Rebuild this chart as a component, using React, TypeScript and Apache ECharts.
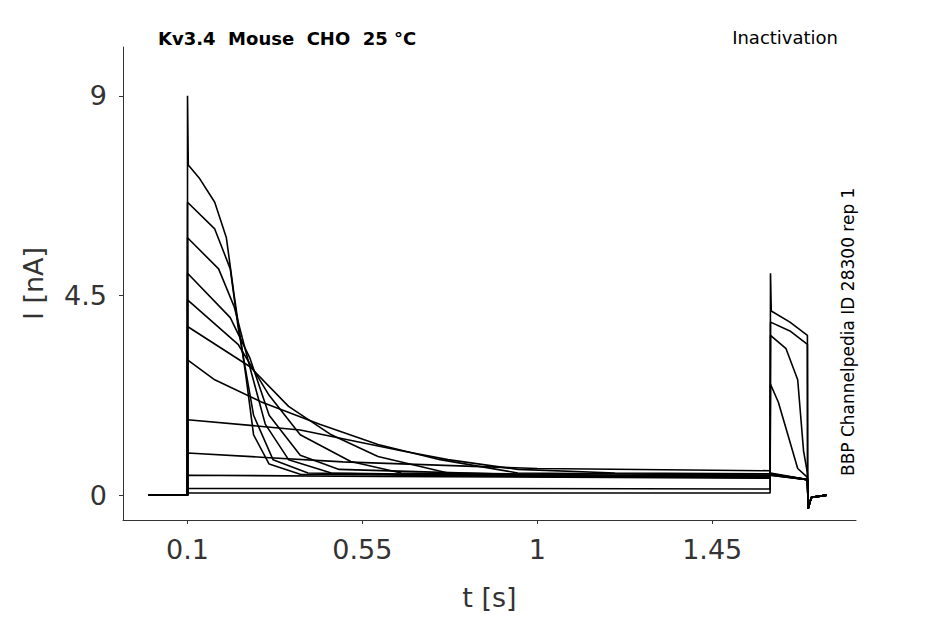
import React, { useEffect, useRef } from "react";
import * as echarts from "echarts";

const xTicks = [0.1, 0.55, 1, 1.45];
const yTicks = [0, 4.5, 9];

// first-pulse decay points [t, I] for each trace
const pulse1: number[][][] = [
  [[0.1, 9.0], [0.102, 7.44], [0.13, 7.15], [0.17, 6.6], [0.2, 5.8], [0.22, 4.5], [0.25, 2.7], [0.27, 1.36], [0.31, 0.7], [0.39, 0.47], [1.0, 0.42], [1.599, 0.4]],
  [[0.1, 6.6], [0.17, 6.0], [0.21, 5.1], [0.23, 3.8], [0.27, 1.8], [0.32, 0.8], [0.41, 0.5], [1.0, 0.42], [1.599, 0.4]],
  [[0.1, 5.8], [0.18, 5.1], [0.22, 4.25], [0.26, 2.9], [0.3, 1.6], [0.36, 0.8], [0.47, 0.5], [1.0, 0.43], [1.599, 0.42]],
  [[0.1, 5.0], [0.21, 4.0], [0.26, 3.1], [0.31, 1.8], [0.39, 0.9], [0.49, 0.58], [1.0, 0.45], [1.599, 0.43]],
  [[0.1, 4.4], [0.23, 3.4], [0.31, 2.25], [0.39, 1.36], [0.52, 0.76], [0.65, 0.5], [1.0, 0.45], [1.599, 0.44]],
  [[0.1, 3.8], [0.26, 2.9], [0.36, 2.0], [0.47, 1.36], [0.59, 0.87], [0.77, 0.5], [1.2, 0.45], [1.599, 0.45]],
  [[0.1, 3.05], [0.17, 2.6], [0.29, 2.1], [0.44, 1.6], [0.59, 1.14], [0.75, 0.8], [0.95, 0.5], [1.599, 0.45]],
  [[0.1, 1.7], [0.39, 1.47], [0.65, 1.0], [0.77, 0.8], [0.95, 0.58], [1.2, 0.5], [1.599, 0.48]],
  [[0.1, 0.95], [0.3, 0.85], [0.5, 0.75], [1.0, 0.6], [1.599, 0.55]],
  [[0.1, 0.45], [0.6, 0.42], [1.2, 0.4], [1.599, 0.38]],
  [[0.1, 0.15], [0.8, 0.15], [1.599, 0.14]],
  [[0.1, 0.05], [0.8, 0.05], [1.599, 0.05]],
];

// second-pulse points [t, I] for each trace
const pulse2: number[][][] = [
  [[1.6, 0.5], [1.695, 0.35]],
  [[1.6, 0.48], [1.695, 0.35]],
  [[1.6, 0.48], [1.695, 0.35]],
  [[1.6, 0.47], [1.695, 0.35]],
  [[1.6, 0.47], [1.695, 0.35]],
  [[1.6, 0.46], [1.695, 0.35]],
  [[1.6, 0.46], [1.695, 0.35]],
  [[1.6, 0.46], [1.695, 0.35]],
  [[1.6, 5.0], [1.602, 4.15], [1.65, 3.9], [1.695, 3.6]],
  [[1.6, 3.9], [1.65, 3.7], [1.695, 3.4]],
  [[1.6, 3.6], [1.64, 3.3], [1.67, 2.6], [1.685, 1.0], [1.695, 0.5]],
  [[1.6, 2.5], [1.62, 2.1], [1.64, 1.5], [1.67, 0.6], [1.695, 0.4]],
];

const tail: number[][] = [[1.697, -0.3], [1.705, -0.05], [1.745, 0]];

export default function App() {
  const ref = useRef<HTMLDivElement>(null);
  useEffect(() => {
    const chart = echarts.init(ref.current!, undefined, { renderer: "svg" });
    const series = pulse1.map((p, i) => ({
      type: "line",
      showSymbol: false,
      symbol: "none",
      lineStyle: { color: "#000", width: 1.6 },
      data: [[0, 0], [0.0999, 0], ...p, [1.5995, p[p.length - 1][1]], ...pulse2[i], [1.6955, 0.35], ...tail],
    }));
    chart.setOption({
      animation: false,
      grid: { left: 115, right: 81, top: 39, bottom: 90 },
      xAxis: {
        type: "value", min: -0.066, max: 1.82,
        axisLine: { onZero: false, lineStyle: { color: "#333" } },
        splitLine: { show: false },
        axisTick: { customValues: xTicks, length: 4, lineStyle: { color: "#333" } },
        axisLabel: { customValues: xTicks, fontSize: 27, color: "#333", margin: 16, fontFamily: "DejaVu Sans", formatter: (v: number) => String(v) },
        name: "t [s]", nameLocation: "middle", nameGap: 64,
        nameTextStyle: { fontSize: 27, color: "#333", fontFamily: "DejaVu Sans" },
      },
      yAxis: {
        type: "value", min: -0.56, max: 10.1,
        axisLine: { show: true, onZero: false, lineStyle: { color: "#333" } },
        splitLine: { show: false },
        axisTick: { show: true, customValues: yTicks, length: 4, lineStyle: { color: "#333" } },
        axisLabel: { customValues: yTicks, fontSize: 27, color: "#333", margin: 16, fontFamily: "DejaVu Sans", formatter: (v: number) => String(v) },
        name: "I [nA]", nameLocation: "middle", nameGap: 76, nameRotate: 90,
        nameTextStyle: { fontSize: 27, color: "#333", fontFamily: "DejaVu Sans" },
      },
      graphic: [
        { type: "text", left: 150, top: 21, style: { text: "Kv3.4  Mouse  CHO  25 °C", font: "bold 18px DejaVu Sans", fill: "#000" } },
        { type: "text", right: 99, top: 20, style: { text: "Inactivation", font: "18px DejaVu Sans", fill: "#000" } },
        { type: "text", x: 831, y: 468, rotation: Math.PI / 2, style: { text: "BBP Channelpedia ID 28300 rep 1", font: "17px DejaVu Sans", fill: "#000", verticalAlign: "top" } },
      ],
      series,
    });
    return () => chart.dispose();
  }, []);
  return <div ref={ref} style={{ width: 929, height: 608 }} />;
}
